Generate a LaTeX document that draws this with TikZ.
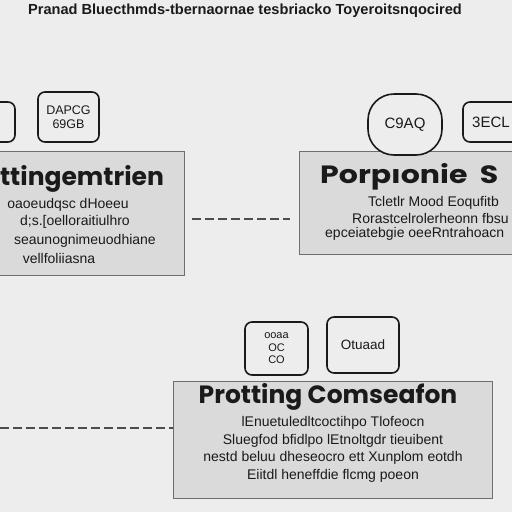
\documentclass[tikz,border=0pt]{standalone}
\usepackage{fontspec}
\setmainfont{Liberation Sans}
\newfontfamily\headfont{Poppins}
\usetikzlibrary{positioning,calc}
\definecolor{fundo}{HTML}{EDEDED}
\definecolor{caixa}{HTML}{DADADA}
\definecolor{borda}{HTML}{6E6E6E}
\definecolor{tinta}{HTML}{1A1A1A}
\tikzset{
  bigbox/.style={draw=borda,fill=caixa,line width=0.9pt,inner sep=0pt},
  tagbox/.style={draw=tinta,fill=fundo,line width=1.6pt,rounded corners=7pt,inner sep=0pt,align=center,text=tinta,font=\fontsize{12.5}{14}\selectfont},
  heading/.style={font=\headfont\bfseries\fontsize{25}{25}\selectfont,text=tinta,inner sep=0pt},
  body/.style={font=\fontsize{14}{14}\selectfont,text=tinta,inner sep=0pt},
  dashcon/.style={draw=borda!70!black,line width=1.4pt,dash pattern=on 9pt off 4pt}
}

\begin{document}
\begin{tikzpicture}[x=1pt,y=-1pt]
\useasboundingbox (0,0) rectangle (512,512);
\fill[fundo] (0,0) rectangle (512,512);
\clip (0,0) rectangle (512,512);
% title
\node[font=\bfseries\fontsize{14.6}{15}\selectfont,text=tinta,inner sep=0pt] (title) at (245,11) {Pranad Bluecthmds-tbernaornae tesbriacko Toyeroitsnqocired};
% big boxes
\node[bigbox,minimum width=192,minimum height=124] (lbox) at (88,213) {};
\node[bigbox,minimum width=222,minimum height=103] (rbox) at (410,202.5) {};
\node[bigbox,minimum width=319,minimum height=117] (bbox) at (332.5,439.5) {};
% small boxes
\node[tagbox,minimum width=40,minimum height=40] (ta) at (-5,122) {};
\node[tagbox,minimum width=61,minimum height=50] (tb) at (68.5,117) {DAPCG\\69GB};
\node[tagbox,rounded corners=26pt,minimum width=74,minimum height=61,font=\fontsize{15}{15}\selectfont] (tc) at (405,124.5) {C9AQ};
\node[tagbox,minimum width=60,minimum height=40,font=\fontsize{15}{15}\selectfont] (td) at (493,122) {\hspace*{-4pt}3ECL};
\node[tagbox,minimum width=63,minimum height=53,font=\fontsize{11}{12.5}\selectfont] (te) at (276.5,348.5) {ooaa\\OC\\CO};
\node[tagbox,minimum width=72,minimum height=56,font=\fontsize{13.5}{14}\selectfont] (tf) at (363,345) {Otuaad};
% headings
\node[heading] (lhead) at (82,179) {ttingemtrien};
\node[heading,anchor=west] (rhead) at (320,177) {\scalebox{1.2}[1]{Porpıonie\hspace{5pt} S}};
\node[heading] (bhead) at (328,397) {Protting Comseafon};
% body lines
\node[body,anchor=east] (l1) at (129,205) {oaoeudqsc dHoeeu};
\node[body,anchor=east] (l2) at (130,222) {d;s.[oelloraitiulhro};
\node[body,anchor=east] (l3) at (156,241) {seaunognimeuodhiane};
\node[body] (l4) at (59,258) {vellfoliiasna};
\node[body,anchor=west] (r1) at (368,203) {Tcletlr Mood Eoqufitb};
\node[body,anchor=west] (r2) at (352,218) {Rorastcelrolerheonn fbsu};
\node[body,anchor=west] (r3) at (325,234) {epceiatebgie oeeRntrahoacn};
\foreach \t [count=\i] in {{lEnuetuledltcoctihpo Tlofeocn},{Sluegfod bfidlpo lEtnoltgdr tieuibent},{nestd beluu dheseocro ett Xunplom eotdh},{Eiitdl heneffdie flcmg poeon}}
  \node[body] (b\i) at (333,405+17.7*\i) {\t};
% connectors
\coordinate (mid) at (0,219);
\coordinate (lnk) at (0,428);
\draw[dashcon,shorten <=8pt,shorten >=9pt] (lbox.east |- mid) -- (rbox.west |- mid);
\draw[dashcon] (lnk) -- (bbox.west |- lnk);
\end{tikzpicture}
\end{document}
